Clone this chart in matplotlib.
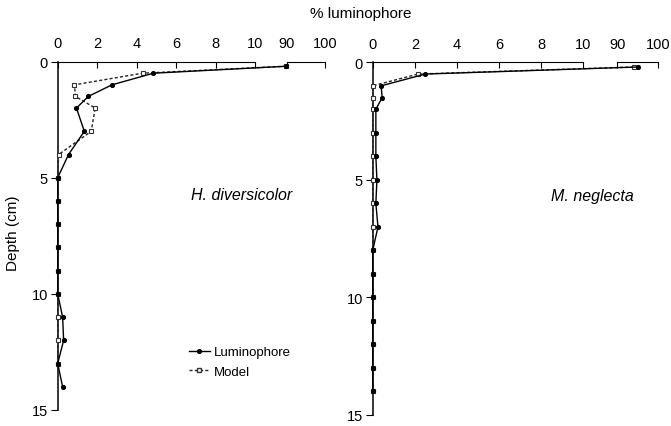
import numpy as np
import matplotlib
matplotlib.use("Agg")
import matplotlib.pyplot as plt
from matplotlib.lines import Line2D

plt.rcParams['font.family'] = ['Liberation Sans', 'DejaVu Sans']

# ---- data ----
depth_hd_lum = [0.2, 0.5, 1, 1.5, 2, 3, 4, 5, 6, 7, 8, 9, 10, 11, 12, 13, 14]
lum_hd = [89, 4.85, 2.75, 1.55, 0.95, 1.35, 0.55, 0, 0, 0, 0, 0, 0, 0.25, 0.3, 0, 0.25]
depth_hd_mod = [0.2, 0.5, 1, 1.5, 2, 3, 4, 5, 6, 7, 8, 9, 10, 11, 12, 13]
mod_hd = [89, 4.3, 0.85, 0.9, 1.9, 1.7, 0.05, 0, 0, 0, 0, 0, 0, 0, 0, 0]

depth_mn_lum = [0.2, 0.5, 1, 1.5, 2, 3, 4, 5, 6, 7, 8, 9, 10, 11, 12, 13, 14]
lum_mn = [95, 2.5, 0.4, 0.45, 0.15, 0.15, 0.15, 0.2, 0.15, 0.25, 0, 0, 0, 0, 0, 0, 0]
depth_mn_mod = [0.2, 0.5, 1, 1.5, 2, 3, 4, 5, 6, 7, 8, 9, 10, 11, 12, 13, 14]
mod_mn = [94, 2.15, 0, 0, 0, 0, 0, 0, 0, 0, 0, 0, 0, 0, 0, 0, 0]

xticks = [0, 2, 4, 6, 8, 10, 90, 100]
yticks = [0, 5, 10, 15]
species = ["H. diversicolor", "M. neglecta"]

GAP = 1.6
SC = 0.195


def fwd(x):
    x = np.asarray(x, dtype=float)
    return np.where(x <= 10, x,
                    np.where(x < 90, 10 + (x - 10) * GAP / 80.0,
                             10 + GAP + (x - 90) * SC))


def inv(u):
    u = np.asarray(u, dtype=float)
    return np.where(u <= 10, u,
                    np.where(u < 10 + GAP, 10 + (u - 10) * 80.0 / GAP,
                             90 + (u - 10 - GAP) / SC))


fig = plt.figure(figsize=(6.71, 4.27), dpi=100)

W, H = 671.0, 427.0
panels = [
    (57.7, 325.0, 62.6, 411.0, depth_hd_lum, lum_hd, depth_hd_mod, mod_hd),
    (372.7, 658.3, 63.3, 416.0, depth_mn_lum, lum_mn, depth_mn_mod, mod_mn),
]

MS = 2.7
for i, (x0, x1, y0, y1, dl, vl, dm, vm) in enumerate(panels):
    ax = fig.add_axes([x0 / W, 1 - y1 / H, (x1 - x0) / W, (y1 - y0) / H])
    ax.set_xscale('function', functions=(fwd, inv))
    ax.set_xlim(0, 100)
    ax.set_ylim(15, 0)
    ax.plot(vm, dm, color='#222222', ls=(0, (2.2, 1.6)), lw=1.0, marker='s',
            ms=MS, mfc='white', mec='#333333', mew=0.8, clip_on=False, zorder=3)
    ax.plot(vl, dl, color='black', ls='-', lw=1.0, marker='o', ms=MS,
            mfc='black', mec='black', clip_on=False, zorder=4)
    for s in ['right', 'bottom']:
        ax.spines[s].set_visible(False)
    ax.spines['top'].set_bounds(0, 10)
    ax.spines['left'].set_bounds(0, 15)
    ax.spines['top'].set_linewidth(0.8)
    ax.spines['left'].set_linewidth(1.1)
    ax.xaxis.tick_top()
    ax.set_xticks(xticks)
    ax.set_xticklabels([str(t) for t in xticks])
    ax.xaxis.set_minor_locator(matplotlib.ticker.NullLocator())
    ax.tick_params(axis='x', direction='in', length=4, width=0.8, pad=8,
                   labelsize=10.5)
    ax.set_yticks(yticks)
    ax.tick_params(axis='y', direction='out', length=5, width=0.8, pad=2,
                   labelsize=10.5)
    ax.plot([90, 100], [0, 0], color='black', lw=0.8, clip_on=False)
    ax.patch.set_visible(False)

fig.text(242 / W, 1 - 196 / H, species[0], style='italic', fontsize=11.5,
         ha='center', va='center')
fig.text(592 / W, 1 - 196 / H, species[1], style='italic', fontsize=11.5,
         ha='center', va='center')
fig.text(361 / W, 1 - 14 / H, "% luminophore", fontsize=11, ha='center',
         va='center')
fig.text(13 / W, 1 - 233 / H, "Depth (cm)", fontsize=11, ha='center',
         va='center', rotation=90)

handles = [
    Line2D([], [], color='black', ls='-', lw=1.0, marker='o', ms=MS,
           mfc='black'),
    Line2D([], [], color='#222222', ls=(0, (2.2, 1.6)), lw=1.0, marker='s',
           ms=MS, mfc='white', mec='#333333'),
]
fig.legend(handles, ["Luminophore", "Model"], loc='center left',
           bbox_to_anchor=(182 / W, 1 - 363 / H), frameon=False,
           fontsize=9.5, handlelength=1.6, handletextpad=0.3, labelspacing=0.55,
           borderpad=0)

fig.savefig("out.png", dpi=100)
